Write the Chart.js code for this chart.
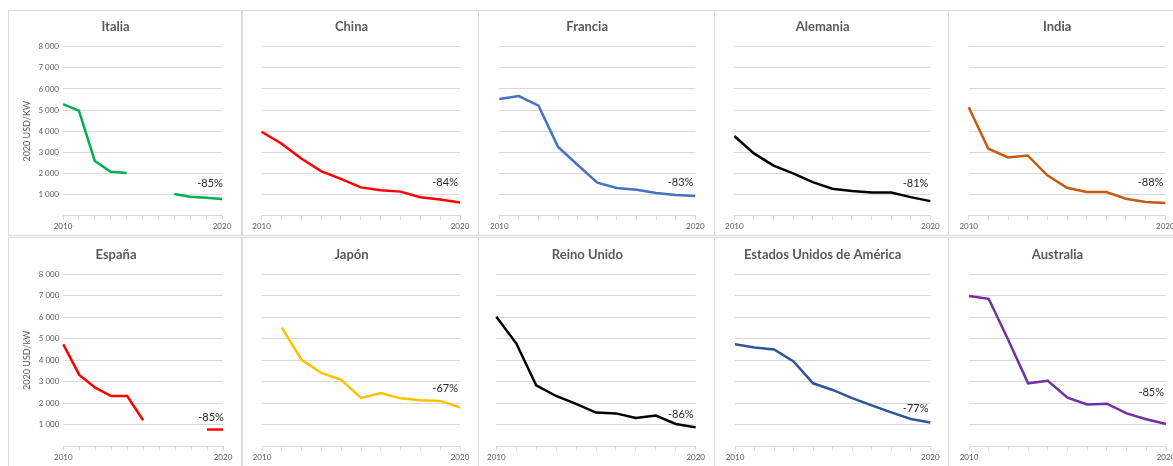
<!DOCTYPE html>
<html>
<head>
<meta charset="utf-8">
<script src="https://cdn.jsdelivr.net/npm/chart.js@4.4.0/dist/chart.umd.min.js"></script>
<style>
  html, body { margin: 0; padding: 0; background: #fff; width: 1173px; height: 466px; overflow: hidden; }
  .panel { position: absolute; border: 1px solid #d9d9d9; box-sizing: border-box; background: #fff; }
  .panel canvas { position: absolute; left: 0; top: 0; }
</style>
</head>
<body>
<script>
// ===============================
// DATOS (2020 USD/kW)
// ===============================
const anios = ['2010', '2011', '2012', '2013', '2014', '2015', '2016', '2017', '2018', '2019', '2020'];

const italia    = [5280, 4970, 2590, 2080, 2020, null, null, 1025, 900, 850, 790];
const china     = [3975, 3420, 2710, 2110, 1740, 1340, 1200, 1140, 870, 770, 630];
const francia   = [5520, 5660, 5210, 3250, 2400, 1560, 1310, 1230, 1070, 980, 930];
const alemania  = [3770, 2950, 2370, 2000, 1590, 1280, 1170, 1100, 1100, 880, 690];
const india     = [5130, 3170, 2760, 2850, 1910, 1320, 1120, 1120, 800, 650, 600];
const espana    = [4740, 3320, 2730, 2340, 2340, 1210, null, null, null, 780, 780];
const japon     = [null, 5520, 4020, 3410, 3090, 2250, 2480, 2230, 2140, 2110, 1810];
const reinoUnido = [6030, 4790, 2840, 2340, 1970, 1570, 1530, 1320, 1430, 1040, 880];
const eeuu      = [4750, 4600, 4500, 3950, 2930, 2620, 2240, 1900, 1580, 1270, 1110];
const australia = [6990, 6860, 4930, 2930, 3050, 2260, 1950, 1980, 1530, 1260, 1040];

const cambios = ['-85%', '-84%', '-83%', '-81%', '-88%', '-85%', '-67%', '-86%', '-77%', '-85%'];

// ===============================
// PANELES (posición y estilo)
// ===============================
const filas = [
  { top: 10, height: 226, areaTop: 46.7, areaBottom: 215.7, tituloCentro: 27 },
  { top: 237, height: 235, areaTop: 274.3, areaBottom: 446.3, tituloCentro: 255 }
];
const columnas = [
  { left: 8, width: 234 },
  { left: 242, width: 237 },
  { left: 478, width: 237 },
  { left: 714, width: 235 },
  { left: 948, width: 236 }
];

const paneles = [
  { titulo: 'Italia', datos: italia, color: '#00b050', fila: 0, col: 0, x0: 63, x1: 222, etiquetaY: 1530, eje: '2020 USD/KW' },
  { titulo: 'China', datos: china, color: '#ff0000', fila: 0, col: 1, x0: 261.5, x1: 460, etiquetaY: 1560 },
  { titulo: 'Francia', datos: francia, color: '#4472c4', fila: 0, col: 2, x0: 499.3, x1: 695.3, etiquetaY: 1580 },
  { titulo: 'Alemania', datos: alemania, color: '#000000', fila: 0, col: 3, x0: 734.3, x1: 930.3, etiquetaY: 1550 },
  { titulo: 'India', datos: india, color: '#c55a11', fila: 0, col: 4, x0: 968.7, x1: 1165.3, etiquetaY: 1590 },
  { titulo: 'España', datos: espana, color: '#ff0000', fila: 1, col: 0, x0: 63.3, x1: 223, etiquetaY: 1360, eje: '2020 USD/kW' },
  { titulo: 'Japón', datos: japon, color: '#ffc000', fila: 1, col: 1, x0: 262, x1: 460, etiquetaY: 2670 },
  { titulo: 'Reino Unido', datos: reinoUnido, color: '#000000', fila: 1, col: 2, x0: 496.3, x1: 695.7, etiquetaY: 1500 },
  { titulo: 'Estados Unidos de América', datos: eeuu, color: '#2f5597', fila: 1, col: 3, x0: 735, x1: 930.3, etiquetaY: 1750 },
  { titulo: 'Australia', datos: australia, color: '#7030a0', fila: 1, col: 4, x0: 969, x1: 1166, etiquetaY: 2490 }
];

const GRIS = '#d9d9d9';
const TEXTO = '#595959';
const FUENTE = 'Lato, "Open Sans", sans-serif';

// etiqueta de variación (-85% ...) dibujada con las escalas del gráfico
const etiquetaPlugin = {
  id: 'etiqueta',
  afterDatasetsDraw(chart, args, opts) {
    const { ctx, scales: { x, y } } = chart;
    ctx.save();
    ctx.font = '11px ' + FUENTE;
    ctx.fillStyle = '#262626';
    ctx.textAlign = 'center';
    ctx.textBaseline = 'middle';
    ctx.fillText(opts.texto, x.getPixelForValue(9.25), y.getPixelForValue(opts.valor));
    ctx.restore();
  }
};

function miles(v) {
  if (v === 0) return '';
  return Math.floor(v / 1000) + ' 000';
}

paneles.forEach((p, i) => {
  const f = filas[p.fila];
  const c = columnas[p.col];

  const div = document.createElement('div');
  div.className = 'panel';
  div.style.left = c.left + 'px';
  div.style.top = f.top + 'px';
  div.style.width = c.width + 'px';
  div.style.height = f.height + 'px';
  document.body.appendChild(div);

  const cw = c.width - 2;
  const ch = f.height - 2;
  const canvas = document.createElement('canvas');
  canvas.width = cw;
  canvas.height = ch;
  canvas.style.width = cw + 'px';
  canvas.style.height = ch + 'px';
  div.appendChild(canvas);

  const canvasLeft = c.left + 1;
  const canvasTop = f.top + 1;
  const anchoY = p.x0 - canvasLeft;
  const padDer = cw - (p.x1 - canvasLeft);
  const altoX = ch - (f.areaBottom - canvasTop);

  const lineH = 15.6;
  const tPadTop = (f.tituloCentro - canvasTop) - lineH / 2;
  const tPadBottom = (f.areaTop - canvasTop) - tPadTop - lineH;

  const primera = p.col === 0;

  new Chart(canvas.getContext('2d'), {
    type: 'line',
    data: {
      labels: anios,
      datasets: [{
        data: p.datos,
        borderColor: p.color,
        borderWidth: 2.5,
        pointRadius: 0,
        tension: 0,
        fill: false,
        spanGaps: false
      }]
    },
    options: {
      responsive: false,
      animation: false,
      devicePixelRatio: 1,
      layout: { padding: { left: 0, right: padDer, top: 0, bottom: 0 } },
      plugins: {
        legend: { display: false },
        tooltip: { enabled: false },
        title: {
          display: true,
          text: p.titulo,
          color: TEXTO,
          font: { family: FUENTE, size: 13, weight: 'bold', lineHeight: 1.2 },
          padding: { top: tPadTop, bottom: tPadBottom }
        },
        etiqueta: { texto: cambios[i], valor: p.etiquetaY }
      },
      scales: {
        x: {
          type: 'category',
          offset: false,
          afterFit: s => { s.height = altoX; },
          grid: { drawOnChartArea: false, drawTicks: true, tickLength: 4, color: GRIS, offset: false },
          border: { display: true, color: GRIS },
          ticks: {
            autoSkip: false,
            maxRotation: 0,
            padding: 2,
            color: TEXTO,
            font: { family: FUENTE, size: 8 },
            callback: (v, idx) => (idx === 0 || idx === anios.length - 1) ? anios[idx] : ''
          }
        },
        y: {
          min: 0,
          max: 8000,
          afterFit: s => { s.width = anchoY; },
          grid: { color: GRIS, drawTicks: false },
          border: { display: false },
          ticks: {
            display: primera,
            stepSize: 1000,
            padding: 4,
            color: TEXTO,
            font: { family: FUENTE, size: 8 },
            callback: miles
          },
          title: {
            display: primera,
            text: p.eje || '',
            color: TEXTO,
            font: { family: FUENTE, size: 9 },
            padding: { top: 13, bottom: 0 }
          }
        }
      }
    },
    plugins: [etiquetaPlugin]
  });
});
</script>
</body>
</html>
